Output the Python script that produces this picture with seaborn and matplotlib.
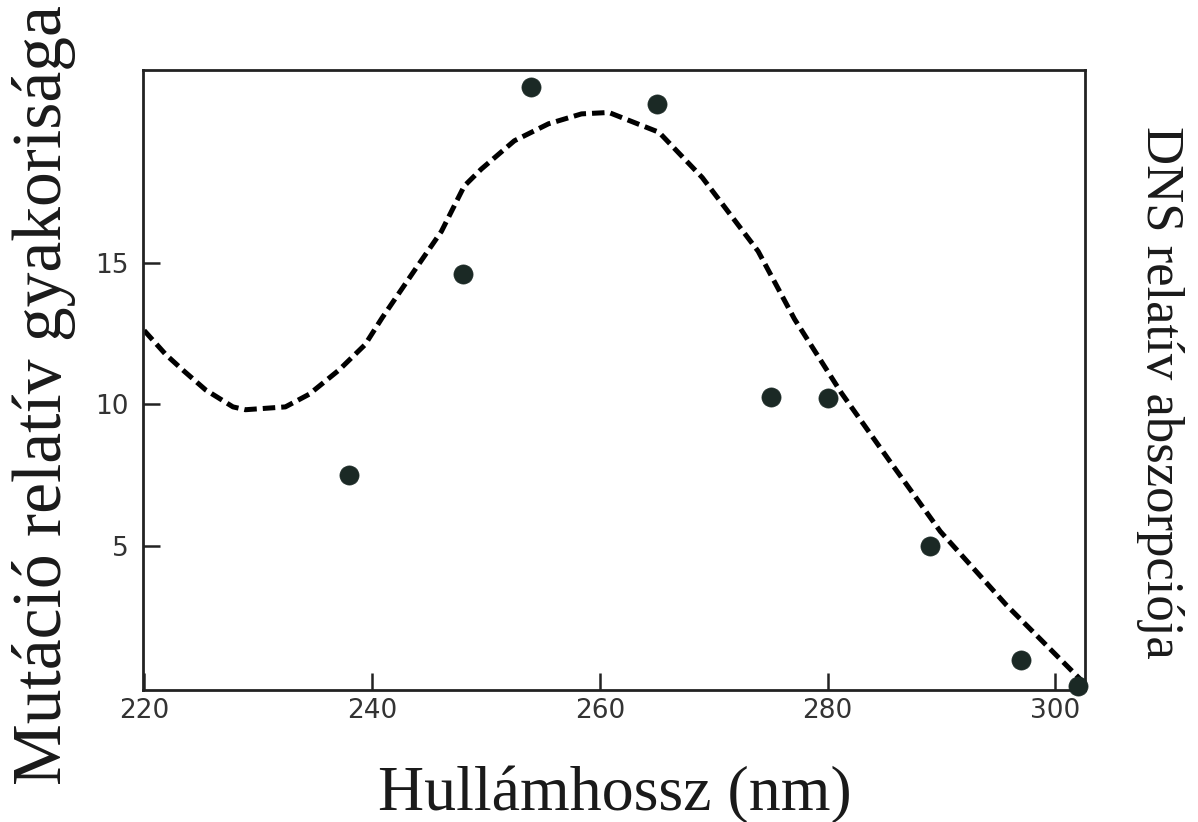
import matplotlib
matplotlib.use("Agg")
import matplotlib.pyplot as plt
import seaborn as sns
import pandas as pd

# Mutation frequency data points (wavelength nm, relative frequency)
mut_wavelength = [238, 248, 254, 265, 275, 280, 289, 297, 302]
mut_frequency = [7.5, 14.6, 21.2, 20.6, 10.25, 10.2, 5.0, 0.95, 0.05]

# DNA absorption curve (dashed)
abs_wavelength = [220.0, 221.9, 223.4, 225.4, 227.8, 228.9, 232.4, 234.5, 237.1,
                  239.4, 240.9, 243.7, 246.1, 248.1, 249.6, 252.5, 255.5, 258.4,
                  260.8, 265.2, 269.0, 273.9, 277.1, 281.2, 285.5, 289.9, 295.7, 302.7]
abs_value = [12.6, 11.75, 11.2, 10.5, 9.9, 9.8, 9.9, 10.35, 11.2,
             12.1, 13.05, 14.7, 16.1, 17.7, 18.3, 19.3, 19.9, 20.25,
             20.3, 19.6, 18.0, 15.4, 13.0, 10.4, 7.96, 5.5, 2.9, 0.07]

x_ticks = [220, 240, 260, 280, 300]
y_ticks = [5, 10, 15]

sns.set_style("white")
plt.rcParams['font.family'] = ['DejaVu Sans']

fig = plt.figure(figsize=(11.98, 8.22), dpi=100)
ax = fig.add_axes([143/1198, 1 - 690/822, (1085-143)/1198, (690-70)/822])

df_abs = pd.DataFrame({"x": abs_wavelength, "y": abs_value})
df_mut = pd.DataFrame({"x": mut_wavelength, "y": mut_frequency})

sns.lineplot(data=df_abs, x="x", y="y", ax=ax, color="black", linewidth=3.6,
             linestyle=(0, (2.5, 1.2)), sort=False, zorder=2)
sns.scatterplot(data=df_mut, x="x", y="y", ax=ax, color="#1b2925", s=190,
                edgecolor="#1b2925", linewidth=0.5, zorder=3, clip_on=False)

ax.set_xlim(219.9, 302.6)
ax.set_ylim(-0.1, 21.8)
ax.set_xticks(x_ticks)
ax.set_yticks(y_ticks)
ax.set_xticklabels([str(t) for t in x_ticks])
ax.set_yticklabels([str(t) for t in y_ticks])
ax.tick_params(axis="both", which="major", direction="in", length=12, width=1.8,
               labelsize=19, labelcolor="#333333", color="#222222", pad=6,
               bottom=True, left=True, top=False, right=False)
ax.tick_params(axis="y", pad=10)
for sp in ax.spines.values():
    sp.set_visible(True)
    sp.set_linewidth(2.0)
    sp.set_color("#222222")
ax.set_xlabel("")
ax.set_ylabel("")

serif = ["Liberation Serif", "DejaVu Serif"]
fig.text(44/1198, 1 - 395/822, "Mutáció relatív gyakorisága", rotation=90,
         ha="center", va="center", fontsize=50, family=serif, color="#1a1a1a")
fig.text(1160/1198, 1 - 392/822, "DNS relatív abszorpciója", rotation=270,
         ha="center", va="center", fontsize=38, family=serif, color="#1a1a1a")
fig.text(615/1198, 1 - 795/822, "Hullámhossz (nm)",
         ha="center", va="center", fontsize=46, family=serif, color="#1a1a1a")

fig.savefig("out.png", dpi=100, facecolor="white")
